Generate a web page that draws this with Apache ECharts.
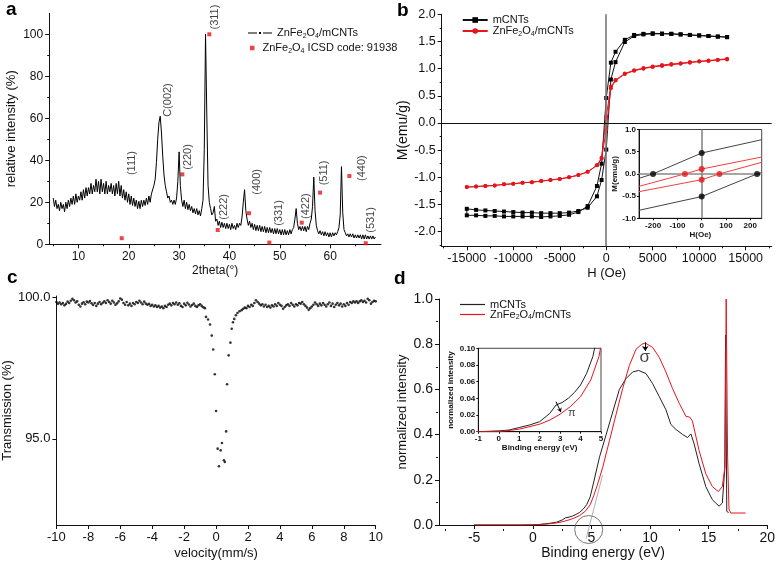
<!DOCTYPE html>
<html><head><meta charset="utf-8">
<script src="https://cdn.jsdelivr.net/npm/echarts@6/dist/echarts.min.js"></script>
<style>html,body{margin:0;padding:0;background:#fff}#c{width:778px;height:561px}</style>
</head><body><div id="c"></div>
<script>
// ---------- Panel a: XRD ----------
const xrdStart = 5, xrdStep = 0.25;
const xrdIntensity = [
22,18,21,17,19,16,20,17,19,15.5,
20,17,21,18,22,19,23,19,24,20,
23,21,25,21,26,22,27,23,27,24,
29,24,28,25,31,25,30,24,31,25,
29,24,30,24,28,25,29,24,28,23,
29,24,30,23,28,22,26,21,25,20,
24,19,23,18.5,22,18,21,17,20.5,17,
21,18,21,18.5,22,19,23,20,24,24,
28,31,39,50,58,61,53,42,33,28,
25,22,23,20,21,19,21,19,22,30,
44,28,21,18,21,17,20,16.5,19,16,
18,15,17,14.5,17,14,16,13.5,17,21,
45,100,62,28,20,17,14,15,18,11,
12,9,11,8,10.5,8,10,7.5,10,7.5,
9.5,7,10,7.5,9,7,10,8,10,9,
13,20,26,16,12,9,11,8,10,7,
9.5,6.5,9,6.5,9,6,8.5,6,8.5,5.5,
8,5.5,8,5.5,7.5,5,7.5,5,7.5,5,
7,4.5,7,4.5,7,4.5,6.5,4.5,7,5,
7,8,12,17,10,7,8.5,6.5,8.5,6.5,
8.5,6,8.5,7,10,12,18,32,16,9,
6.5,5,6.5,4.5,6,4,6,4,5.5,3.5,
5.5,3.5,5.5,4,5.5,4.5,6,8,14,37,
15,7,5.5,4,5,3.5,5,3.5,5,3,
4.5,3,4.5,3,4.5,2.5,4.5,2.5,4.5,2.5,
4,2.5,4,2.5,4,2.5,3.5];
const icsdAngle = [18.6,30.64,36.0,37.67,43.89,47.92,54.36,58.0,63.82,67.07];
const icsdIntensity = [2.9,33.3,100,6.8,14.8,0.8,10.3,24.6,32.5,0.5];
const peakLabels = ['(111)','C(002)','(220)','(311)','(222)','(400)','(331)','(422)','(511)','(440)','(531)'];
const peakLabelAnchor = [[20.65,38.7],[27.84,68.7],[31.77,41.6],[37.13,108.2],[38.92,17.8],[45.47,29.7],[49.84,14.9],[55.2,18.2],[58.78,34],[66.33,36.3],[68.12,11.6]];
const aXTicks = [10,20,30,40,50,60], aXMinor = [5,15,25,35,45,55,65];

// ---------- Panel b: hysteresis ----------
const hDesc = [13000,12000,11000,10000,9000,8000,7000,6000,5000,4000,3000,2000,1000,500,0,-500,-1000,-2000,-3000,-4000,-5000,-6000,-7000,-8000,-9000,-10000,-11000,-12000,-13000,-14000,-15000];
const hAsc = hDesc.slice().reverse();
const mCNTsDesc = [1.58,1.59,1.60,1.61,1.62,1.63,1.64,1.645,1.65,1.64,1.62,1.53,1.31,1.11,0.46,-0.75,-1.16,-1.53,-1.64,-1.69,-1.71,-1.72,-1.73,-1.72,-1.72,-1.72,-1.72,-1.71,-1.71,-1.70,-1.70];
const mCNTsAsc = [-1.58,-1.60,-1.61,-1.62,-1.63,-1.64,-1.65,-1.65,-1.66,-1.66,-1.66,-1.65,-1.62,-1.56,-1.35,-1.05,-0.49,0.8,1.12,1.49,1.60,1.63,1.64,1.64,1.64,1.63,1.62,1.61,1.60,1.59,1.58];
const znDesc = [1.18,1.165,1.15,1.135,1.12,1.10,1.085,1.065,1.04,1.01,0.97,0.91,0.79,0.67,0.12,-0.64,-0.78,-0.90,-0.96,-1.00,-1.03,-1.05,-1.07,-1.09,-1.10,-1.12,-1.13,-1.15,-1.16,-1.17,-1.18];
const znAsc = [-1.18,-1.17,-1.16,-1.15,-1.13,-1.12,-1.10,-1.09,-1.07,-1.05,-1.03,-1.00,-0.96,-0.90,-0.78,-0.66,-0.12,0.64,0.78,0.90,0.96,1.00,1.03,1.05,1.07,1.09,1.11,1.13,1.14,1.16,1.17];
const bXTicks = [-15000,-10000,-5000,0,5000,10000,15000], bXMinor = [-17500,-12500,-7500,-2500,2500,7500,12500,17500];
const bYTicks = [-2,-1.5,-1,-0.5,0,0.5,1,1.5,2], bYMinor = [-2.25,-1.75,-1.25,-0.75,-0.25,0.25,0.75,1.25,1.75];
// inset b
const insetMUp = [[-258,-0.1],[-200,0],[0,0.47],[247,0.77]];
const insetMDown = [[-258,-0.82],[0,-0.51],[228,0],[247,0.03]];
const insetZUp = [[-258,-0.28],[-69,0],[0,0.11],[247,0.38]];
const insetZDown = [[-258,-0.4],[0,-0.13],[73,0],[247,0.26]];
const insetMDots = [[-200,0],[0,0.47],[0,-0.51],[228,0]];
const insetZDots = [[-69,0],[0,0.11],[0,-0.13],[73,0]];

// ---------- Panel c: Mossbauer ----------
const mossLeftStart = -10, mossStep = 0.1;
const mossLeft = [
99.84,99.78,99.82,99.76,99.80,99.72,99.77,99.85,99.80,99.88,
99.95,99.90,99.82,99.86,99.74,99.68,99.78,99.83,99.76,99.85,
99.82,99.87,99.79,99.73,99.80,99.70,99.78,99.84,99.76,99.81,
99.86,99.80,99.90,99.84,99.78,99.88,99.82,99.74,99.79,99.86,
99.96,99.92,99.80,99.74,99.84,99.72,99.78,99.70,99.80,99.76,
99.84,99.80,99.88,99.82,99.76,99.85,99.78,99.74,99.77,99.70,
99.74,99.68,99.72,99.66,99.70,99.64,99.68,99.62,99.70,99.66,
99.74,99.78,99.72,99.80,99.76,99.82,99.74,99.79,99.70,99.66,
99.78,99.72,99.81,99.75,99.68,99.73,99.78,99.70,99.66,99.72,
99.76,99.70,99.65,99.62];
const mossDip = [[-0.63,99.31],[-0.5,99.22],[-0.38,99.04],[-0.27,98.65],[-0.18,98.16],[-0.08,97.28],[0.0,95.98],[0.1,94.65],[0.18,94.03],[0.29,94.59],[0.37,94.85],[0.49,94.24],[0.55,94.18],[0.63,95.26],[0.69,96.93],[0.79,97.95],[0.9,98.40],[0.98,98.89],[1.06,99.12],[1.14,99.24],[1.24,99.37],[1.34,99.45],[1.47,99.51]];
const mossRightStart = 1.6;
const mossRight = [
99.55,99.60,99.64,99.62,99.70,99.66,99.74,99.70,99.80,99.90,
99.84,99.78,99.72,99.76,99.68,99.74,99.66,99.70,99.64,99.72,
99.68,99.76,99.70,99.80,99.74,99.70,99.60,99.66,99.72,99.76,
99.70,99.80,99.74,99.68,99.76,99.72,99.80,99.78,99.84,99.76,
99.70,99.64,99.56,99.62,99.68,99.74,99.82,99.76,99.70,99.78,
99.72,99.80,99.74,99.68,99.76,99.82,99.70,99.78,99.66,99.74,
99.80,99.72,99.78,99.68,99.76,99.70,99.80,99.74,99.84,99.80,
99.86,99.82,99.86,99.80,99.86,99.90,99.84,99.88,99.82,99.95,
99.90,99.78,99.84,99.88,99.86];
const cYTicks = [95,100];

// ---------- Panel d: XPS valence ----------
const dMCNTs = [[-5,0],[-1,0],[0,0.001],[0.5,0.002],[1,0.005],[1.5,0.008],[2,0.012],[2.5,0.022],[2.8,0.032],[3.1,0.035],[3.4,0.04],[3.7,0.047],[4,0.056],[4.3,0.07],[4.6,0.09],[4.9,0.125],[5.2,0.19],[5.69,0.3],[6.26,0.4],[6.82,0.5],[7.39,0.6],[7.96,0.648],[8.52,0.677],[9.03,0.684],[9.66,0.67],[10.22,0.626],[10.79,0.568],[11.36,0.51],[11.78,0.445],[12.21,0.423],[12.77,0.401],[13.2,0.387],[13.49,0.403],[13.77,0.358],[14.19,0.271],[14.76,0.17],[15.32,0.112],[15.89,0.083],[16.17,0.097],[16.38,0.25],[16.45,0.84],[16.55,0.06],[16.7,0.055]];
const dZn = [[-5,0],[-1,0],[0,0.0],[1,0.003],[2,0.009],[2.5,0.014],[3,0.021],[3.5,0.03],[4,0.042],[4.5,0.062],[4.9,0.09],[5.2,0.13],[5.5,0.175],[5.97,0.256],[6.54,0.373],[7.1,0.488],[7.67,0.604],[8.24,0.706],[8.81,0.778],[9.3,0.8],[9.6,0.805],[10.22,0.786],[10.79,0.742],[11.36,0.677],[11.92,0.604],[12.49,0.539],[13.06,0.481],[13.4,0.477],[13.62,0.46],[14.19,0.329],[14.76,0.227],[15.32,0.17],[15.83,0.148],[16.17,0.17],[16.4,0.26],[16.5,1.0],[16.62,0.3],[16.74,0.07],[16.89,0.053],[18.16,0.053]];
const dTangent = [[4.55,-0.06],[5.95,0.22]];
const dCircle = [[4.77,-0.02]];
const dXTicks = [-5,0,5,10,15,20], dXMinor = [-7.5,-2.5,2.5,7.5,12.5,17.5];

// ---------- build ----------
const FONT = 'Arial, "Liberation Sans", Helvetica, sans-serif';
const xAxes = [], yAxes = [];
function axisSet(list, dim, grid, min, max, majors, minors, o) {
  const base = {type:'value', gridIndex:grid, min:min, max:max, splitLine:{show:false}};
  const main = Object.assign({}, base, {
    position: dim === 'x' ? 'bottom' : 'left',
    axisLine:{show:true, onZero:false, lineStyle:{color:'#111', width:1}},
    axisTick:{show:true, inside:!!o.inside, length:o.tickLen || 4, lineStyle:{color:'#111'}},
    axisLabel:{show:true, fontSize:o.fs, fontFamily:FONT, color:'#111', margin:o.margin || 6,
      fontWeight:o.bold ? 'bold' : 'normal', formatter:o.fmt},
    name:o.name || '', nameLocation:'middle', nameGap:o.nameGap || 20,
    nameTextStyle:{fontSize:o.nfs || o.fs, fontFamily:FONT, color:'#111', fontWeight:o.bold ? 'bold' : 'normal'}
  });
  if (majors) { main.axisTick.customValues = majors; main.axisLabel.customValues = majors; }
  else if (o.interval) { main.interval = o.interval; }
  const idx = list.push(main) - 1;
  if (minors) {
    list.push(Object.assign({}, base, {
      position: dim === 'x' ? 'top' : 'right',
      offset: -o.span,
      axisLine:{show:false, onZero:false},
      axisLabel:{show:false, customValues:minors},
      axisTick:{show:true, inside:true, length:2, customValues:minors, lineStyle:{color:'#111'}}
    }));
  }
  return idx;
}
const f1 = v => v.toFixed(1), f2 = v => v.toFixed(2), f0 = v => String(Math.round(v));

const grids = [
  {left:49.2, top:13.3, width:331.8, height:231},
  {left:441.7, top:14.3, width:330, height:232},
  {left:639, top:129.5, width:122.7, height:88.8, show:true, backgroundColor:'#fff', borderColor:'#444', borderWidth:1},
  {left:48.3, top:296, width:327.4, height:230.7},
  {left:439, top:299, width:329.3, height:230},
  {left:478.3, top:348.3, width:122.7, height:83.4, show:true, backgroundColor:'#fff', borderColor:'#444', borderWidth:1}
];

const aX = axisSet(xAxes,'x',0,4.2,70.1,aXTicks,aXMinor,{fs:12,fmt:f0,name:'2theta(°)',nameGap:20,nfs:12,span:231});
const aY = axisSet(yAxes,'y',0,0,110,[0,20,40,60,80,100],[10,30,50,70,90],{fs:12,fmt:f0,name:'relative intensity (%)',nameGap:31,nfs:13,span:331.8});
const bX = axisSet(xAxes,'x',1,-17700,17800,bXTicks,bXMinor,{fs:12.5,fmt:f0,name:'H (Oe)',nameGap:21,nfs:13,span:232});
const bY = axisSet(yAxes,'y',1,-2.27,2.0,bYTicks,bYMinor,{fs:12.5,fmt:f1,name:'M(emu/g)',nameGap:32,nfs:14,span:330});
const biX = axisSet(xAxes,'x',2,-258,247,[-200,-100,0,100,200],null,{fs:8,bold:true,fmt:f0,name:'H(Oe)',nameGap:12,nfs:8,tickLen:2,margin:3});
const biY = axisSet(yAxes,'y',2,-1,1,[-1,-0.5,0,0.5,1],null,{fs:8,bold:true,fmt:f1,name:'M(emu/g)',nameGap:20,nfs:8,tickLen:2,margin:3});
const cX = axisSet(xAxes,'x',3,-10,10,null,null,{fs:13,fmt:f0,interval:2,name:'velocity(mm/s)',nameGap:22,nfs:13});
const cY = axisSet(yAxes,'y',3,91.95,100.05,cYTicks,null,{fs:13,fmt:f1,name:'Transmission (%)',nameGap:34,nfs:13});
const dX = axisSet(xAxes,'x',4,-8,20,dXTicks,dXMinor,{fs:14,fmt:f0,name:'Binding energy (eV)',nameGap:21,nfs:14,span:230});
const dY = axisSet(yAxes,'y',4,0,1,null,[0.1,0.3,0.5,0.7,0.9],{fs:14,fmt:f1,interval:0.2,name:'normalized intensity',nameGap:30,nfs:13,span:329.3});
const diX = axisSet(xAxes,'x',5,-1,5,null,null,{fs:8,bold:true,fmt:f0,interval:1,name:'Binding energy (eV)',nameGap:12,nfs:8,tickLen:2,margin:3});
const diY = axisSet(yAxes,'y',5,0,0.1,null,null,{fs:8,bold:true,fmt:f2,interval:0.02,name:'normalized intensity',nameGap:24,nfs:8,tickLen:2,margin:3});

const xrdData = xrdIntensity.map((v,i) => [xrdStart + i*xrdStep, v]);
const icsdData = icsdAngle.map((a,i) => [a, icsdIntensity[i]]);
const mossData = mossLeft.map((v,i) => [mossLeftStart + i*mossStep, v])
  .concat(mossDip)
  .concat(mossRight.map((v,i) => [mossRightStart + i*mossStep, v]));
const bM = hDesc.map((h,i) => [h, mCNTsDesc[i]]).concat(hAsc.map((h,i) => [h, mCNTsAsc[i]]));
const bZ = hDesc.map((h,i) => [h, znDesc[i]]).concat(hAsc.map((h,i) => [h, znAsc[i]]));

const RED = '#e8141c';
const names = {
  a_x:'{t|ZnFe}{s|2}{t|O}{s|4}{t|/mCNTs}',
  a_icsd:'{t|ZnFe}{s|2}{t|O}{s|4}{t| ICSD code: 91938}',
  b_m:'{t|mCNTs}', b_z:'{t|ZnFe}{s|2}{t|O}{s|4}{t|/mCNTs}',
  d_m:'{t|mCNTs}', d_z:'{t|ZnFe}{s|2}{t|O}{s|4}{t|/mCNTs}'
};
function legendText(fs, lh) {
  return {rich:{
    t:{fontSize:fs, fontFamily:FONT, color:'#111', lineHeight:lh},
    s:{fontSize:Math.round(fs*0.62), fontFamily:FONT, color:'#111', lineHeight:lh, verticalAlign:'bottom'}
  }};
}
const legFmt = n => names[n];
const ICON_DASHDOT = 'path://M0,3.5h9v1h-9z M11,3h2v2h-2z M15,3.5h9v1h-9z';
const ICON_LINE = 'path://M0,3h25v1.2h-25z';

const series = [
  {name:'a_x', type:'line', xAxisIndex:aX, yAxisIndex:aY, data:xrdData, symbol:'none',
   lineStyle:{color:'#000', width:1}, itemStyle:{color:'#000'}},
  {name:'a_icsd', type:'scatter', xAxisIndex:aX, yAxisIndex:aY, data:icsdData, symbol:'rect', symbolSize:4, itemStyle:{color:RED}, clip:false},
  {name:'a_lab', type:'scatter', xAxisIndex:aX, yAxisIndex:aY, symbolSize:0, clip:false,
   data:peakLabels.map((t,i) => ({name:t, value:peakLabelAnchor[i]})),
   label:{show:true, position:'inside', rotate:90, formatter:p => p.name, fontSize:11, fontFamily:FONT, color:'#111'}},
  {name:'b_m', type:'line', xAxisIndex:bX, yAxisIndex:bY, data:bM, symbol:'rect', symbolSize:4,
   lineStyle:{color:'#111', width:1}, itemStyle:{color:'#000'},
   markLine:{silent:true, symbol:'none', label:{show:false}, animation:false,
     data:[{xAxis:0, lineStyle:{color:'#777', width:1.6, type:'solid'}}, {yAxis:0, lineStyle:{color:'#111', width:1, type:'solid'}}]}},
  {name:'b_z', type:'line', xAxisIndex:bX, yAxisIndex:bY, data:bZ, symbol:'circle', symbolSize:4,
   lineStyle:{color:RED, width:1}, itemStyle:{color:RED}},
  {name:'bi_m1', type:'line', xAxisIndex:biX, yAxisIndex:biY, data:insetMUp, symbol:'none', lineStyle:{color:'#444', width:1},
   markLine:{silent:true, symbol:'none', label:{show:false}, animation:false,
     data:[{xAxis:0, lineStyle:{color:'#888', width:1.6, type:'solid'}}, {yAxis:0, lineStyle:{color:'#888', width:1.6, type:'solid'}}]}},
  {name:'bi_m2', type:'line', xAxisIndex:biX, yAxisIndex:biY, data:insetMDown, symbol:'none', lineStyle:{color:'#444', width:1}},
  {name:'bi_z1', type:'line', xAxisIndex:biX, yAxisIndex:biY, data:insetZUp, symbol:'none', lineStyle:{color:'#f04040', width:1}},
  {name:'bi_z2', type:'line', xAxisIndex:biX, yAxisIndex:biY, data:insetZDown, symbol:'none', lineStyle:{color:'#f04040', width:1}},
  {name:'bi_md', type:'scatter', xAxisIndex:biX, yAxisIndex:biY, data:insetMDots, symbolSize:6, itemStyle:{color:'#000'}, z:5},
  {name:'bi_zd', type:'scatter', xAxisIndex:biX, yAxisIndex:biY, data:insetZDots, symbolSize:6, itemStyle:{color:RED}, z:5},
  {name:'c', type:'scatter', xAxisIndex:cX, yAxisIndex:cY, data:mossData, symbolSize:2.6, itemStyle:{color:'#000'}, clip:false},
  {name:'d_tan', type:'line', xAxisIndex:dX, yAxisIndex:dY, data:dTangent, symbol:'none', clip:false, lineStyle:{color:'#999', width:0.8}},
  {name:'d_circ', type:'scatter', xAxisIndex:dX, yAxisIndex:dY, data:dCircle, symbol:'circle', symbolSize:28, clip:false,
   itemStyle:{color:'rgba(0,0,0,0)', borderColor:'#555', borderWidth:1}},
  {name:'d_m', type:'line', xAxisIndex:dX, yAxisIndex:dY, data:dMCNTs, symbol:'none', lineStyle:{color:'#222', width:1}, itemStyle:{color:'#222'}},
  {name:'d_z', type:'line', xAxisIndex:dX, yAxisIndex:dY, data:dZn, symbol:'none', lineStyle:{color:RED, width:1}, itemStyle:{color:RED},
   markLine:{silent:true, symbol:['none','arrow'], symbolSize:5, label:{show:false}, animation:false,
     data:[[{coord:[9.6,0.808]},{coord:[9.6,0.77]}]], lineStyle:{color:'#000', width:1, type:'solid'}}},
  {name:'d_sig', type:'scatter', xAxisIndex:dX, yAxisIndex:dY, symbolSize:0, data:[{name:'σ', value:[9.55,0.742]}],
   label:{show:true, position:'inside', formatter:p => p.name, fontSize:17, fontFamily:FONT, color:'#111'}},
  {name:'di_m', type:'line', xAxisIndex:diX, yAxisIndex:diY, data:dMCNTs, symbol:'none', lineStyle:{color:'#222', width:1}},
  {name:'di_z', type:'line', xAxisIndex:diX, yAxisIndex:diY, data:dZn, symbol:'none', lineStyle:{color:RED, width:1},
   markLine:{silent:true, symbol:['none','arrow'], symbolSize:4, label:{show:false}, animation:false,
     data:[[{coord:[2.8,0.036]},{coord:[3.04,0.0235]}]], lineStyle:{color:'#000', width:1, type:'solid'}}},
  {name:'di_pi', type:'scatter', xAxisIndex:diX, yAxisIndex:diY, symbolSize:0, data:[{name:'π', value:[3.57,0.022]}],
   label:{show:true, position:'inside', formatter:p => p.name, fontSize:11, fontFamily:FONT, color:'#111'}}
];

const option = {
  animation:false,
  backgroundColor:'#fff',
  grid:grids,
  xAxis:xAxes,
  yAxis:yAxes,
  legend:[
    {data:[{name:'a_x', icon:ICON_DASHDOT}], left:248, top:27.5, padding:0, orient:'vertical', itemWidth:24, itemHeight:8, formatter:legFmt, textStyle:legendText(11,14), selectedMode:false},
    {data:[{name:'a_icsd', icon:'rect'}], left:250, top:42.5, padding:0, orient:'vertical', itemWidth:4.5, itemHeight:4.5, formatter:legFmt, textStyle:Object.assign(legendText(11,14),{padding:[0,0,0,3]}), selectedMode:false},
    {data:['b_m','b_z'], left:461.7, top:14.5, padding:0, orient:'vertical', itemWidth:25, itemHeight:7, itemGap:0, formatter:legFmt, textStyle:legendText(11,13), selectedMode:false},
    {data:[{name:'d_m', icon:ICON_LINE},{name:'d_z', icon:ICON_LINE}], left:460, top:299, padding:0, orient:'vertical', itemWidth:25, itemHeight:7, itemGap:-1, formatter:legFmt, textStyle:legendText(11,12), selectedMode:false}
  ],
  graphic:[
    {type:'text', left:6, top:0, style:{text:'a', font:'bold 19px Arial, "Liberation Sans", sans-serif', fill:'#000'}},
    {type:'text', left:397, top:1, style:{text:'b', font:'bold 19px Arial, "Liberation Sans", sans-serif', fill:'#000'}},
    {type:'text', left:7, top:268, style:{text:'c', font:'bold 19px Arial, "Liberation Sans", sans-serif', fill:'#000'}},
    {type:'text', left:394, top:269, style:{text:'d', font:'bold 19px Arial, "Liberation Sans", sans-serif', fill:'#000'}}
  ],
  series:series
};
const chart = echarts.init(document.getElementById('c'), null, {renderer:'canvas'});
chart.setOption(option);
</script></body></html>
